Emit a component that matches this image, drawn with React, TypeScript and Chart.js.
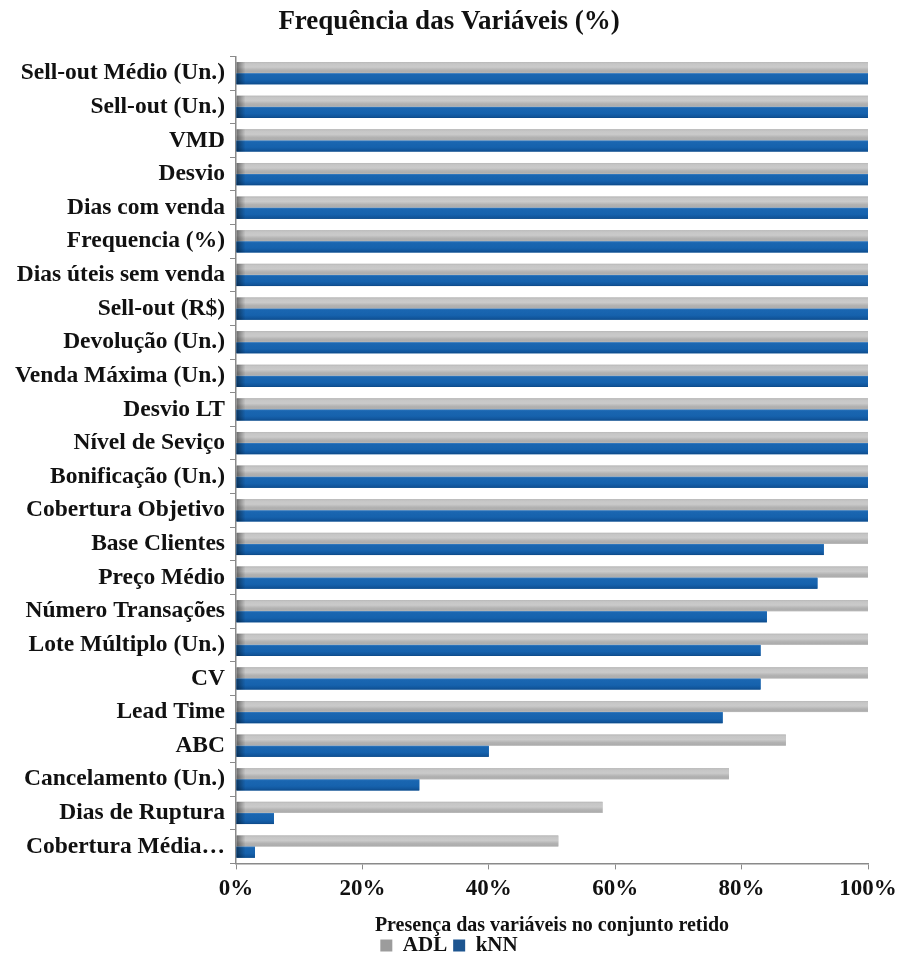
import { useEffect, useRef } from "react";
import { Chart, registerables } from "chart.js";

Chart.register(...registerables);

const categories = [
  "Sell-out Médio (Un.)",
  "Sell-out (Un.)",
  "VMD",
  "Desvio",
  "Dias com venda",
  "Frequencia (%)",
  "Dias úteis sem venda",
  "Sell-out (R$)",
  "Devolução (Un.)",
  "Venda Máxima (Un.)",
  "Desvio LT",
  "Nível de Seviço",
  "Bonificação (Un.)",
  "Cobertura Objetivo",
  "Base Clientes",
  "Preço Médio",
  "Número Transações",
  "Lote Múltiplo (Un.)",
  "CV",
  "Lead Time",
  "ABC",
  "Cancelamento (Un.)",
  "Dias de Ruptura",
  "Cobertura Média…",
];

const adlValues = [
  100, 100, 100, 100, 100, 100, 100, 100, 100, 100, 100, 100, 100, 100, 100,
  100, 100, 100, 100, 100, 87, 78, 58, 51,
];

const knnValues = [
  100, 100, 100, 100, 100, 100, 100, 100, 100, 100, 100, 100, 100, 100, 93, 92,
  84, 83, 83, 77, 40, 29, 6, 3,
];

const seriesNames = ["ADL", "kNN"];
const xTickValues = [0, 20, 40, 60, 80, 100];

const SERIF = '"Liberation Serif", "Times New Roman", serif';

// Shaded fills for each bar: a vertical sheen plus a darker strip at the base.
const shadeStops: Array<Array<[number, string]>> = [
  [
    [0, "#b8b8b8"],
    [0.15, "#c6c6c6"],
    [0.45, "#cacaca"],
    [0.72, "#b2b2b2"],
    [0.9, "#adadad"],
    [1, "#bebebe"],
  ],
  [
    [0, "#3b7fc2"],
    [0.12, "#1a66b1"],
    [0.6, "#1662ad"],
    [0.88, "#11559b"],
    [1, "#0d4884"],
  ],
];

const barShading = {
  id: "barShading",
  afterDatasetsDraw(chart: Chart) {
    const ctx = chart.ctx;
    chart.data.datasets.forEach((_ds, di) => {
      const meta = chart.getDatasetMeta(di);
      if (meta.hidden) return;
      meta.data.forEach((el: any) => {
        const { x, y, base, height } = el.getProps(
          ["x", "y", "base", "height"],
          true
        );
        const top = y - height / 2;
        const left = Math.min(base, x);
        const w = Math.abs(x - base);
        if (w <= 0) return;
        const g = ctx.createLinearGradient(0, top, 0, top + height);
        shadeStops[di].forEach(([o, c]) => g.addColorStop(o, c));
        ctx.save();
        ctx.fillStyle = g;
        ctx.fillRect(left, top, w, height);
        const edge = Math.min(9, w);
        const h = ctx.createLinearGradient(left, 0, left + edge, 0);
        h.addColorStop(0, "rgba(0,0,0,0.45)");
        h.addColorStop(1, "rgba(0,0,0,0)");
        ctx.fillStyle = h;
        ctx.fillRect(left, top, edge, height);
        ctx.restore();
      });
    });
  },
};

export default function App() {
  const canvasRef = useRef<HTMLCanvasElement | null>(null);

  useEffect(() => {
    if (!canvasRef.current) return;
    const chart = new Chart(canvasRef.current, {
      type: "bar",
      data: {
        labels: categories,
        datasets: [
          {
            label: seriesNames[0],
            data: adlValues,
            backgroundColor: "#bdbdbd",
            categoryPercentage: 0.66,
            barPercentage: 1,
          },
          {
            label: seriesNames[1],
            data: knnValues,
            backgroundColor: "#1662ad",
            categoryPercentage: 0.66,
            barPercentage: 1,
          },
        ],
      },
      options: {
        indexAxis: "y",
        animation: false,
        responsive: true,
        maintainAspectRatio: false,
        layout: { padding: { left: 0, right: 0, top: 0, bottom: -6 } },
        scales: {
          x: {
            min: 0,
            max: 100,
            afterBuildTicks: (scale: any) => {
              scale.ticks = xTickValues.map((v) => ({ value: v }));
            },
            afterFit: (scale: any) => {
              scale.paddingRight = 30;
            },
            ticks: {
              callback: (v: any) => `${v}%`,
              color: "#111",
              padding: 6,
              font: { family: SERIF, size: 23, weight: "bold" },
            },
            grid: {
              drawOnChartArea: false,
              tickLength: 6,
              color: "#8a8a8a",
            },
            border: { display: true, color: "#8a8a8a", width: 1.5 },
            title: {
              display: true,
              text: "Presença das variáveis no conjunto retido",
              color: "#111",
              font: { family: SERIF, size: 20, weight: "bold" },
              padding: { top: 5, bottom: -9 },
            },
          },
          y: {
            afterFit: (scale: any) => {
              scale.width = 236;
            },
            ticks: {
              color: "#111",
              padding: 5,
              autoSkip: false,
              font: { family: SERIF, size: 23.5, weight: "bold" },
            },
            grid: {
              drawOnChartArea: false,
              tickLength: 6,
              color: "#8a8a8a",
              offset: true,
            },
            border: { display: true, color: "#8a8a8a", width: 1.5 },
          },
        },
        plugins: {
          title: {
            display: true,
            text: "Frequência das Variáveis (%)",
            color: "#111",
            font: { family: SERIF, size: 27, weight: "bold" },
            padding: { top: 6, bottom: 18 },
          },
          legend: {
            position: "bottom",
            labels: {
              boxWidth: 12,
              boxHeight: 12,
              padding: 6,
              color: "#111",
              font: { family: SERIF, size: 21, weight: "bold" },
              generateLabels: (c: any) =>
                c.data.datasets.map((ds: any, i: number) => ({
                  text: ds.label,
                  fillStyle: i === 0 ? "#9c9c9c" : "#1d5590",
                  strokeStyle: "transparent",
                  lineWidth: 0,
                  hidden: false,
                  datasetIndex: i,
                  fontColor: "#111",
                })),
            },
          },
          tooltip: { enabled: false },
        },
      },
      plugins: [barShading],
    });
    return () => chart.destroy();
  }, []);

  return (
    <div
      style={{
        position: "absolute",
        left: 0,
        top: 0,
        width: 898,
        height: 960,
        background: "#fff",
      }}
    >
      <canvas ref={canvasRef} />
    </div>
  );
}
